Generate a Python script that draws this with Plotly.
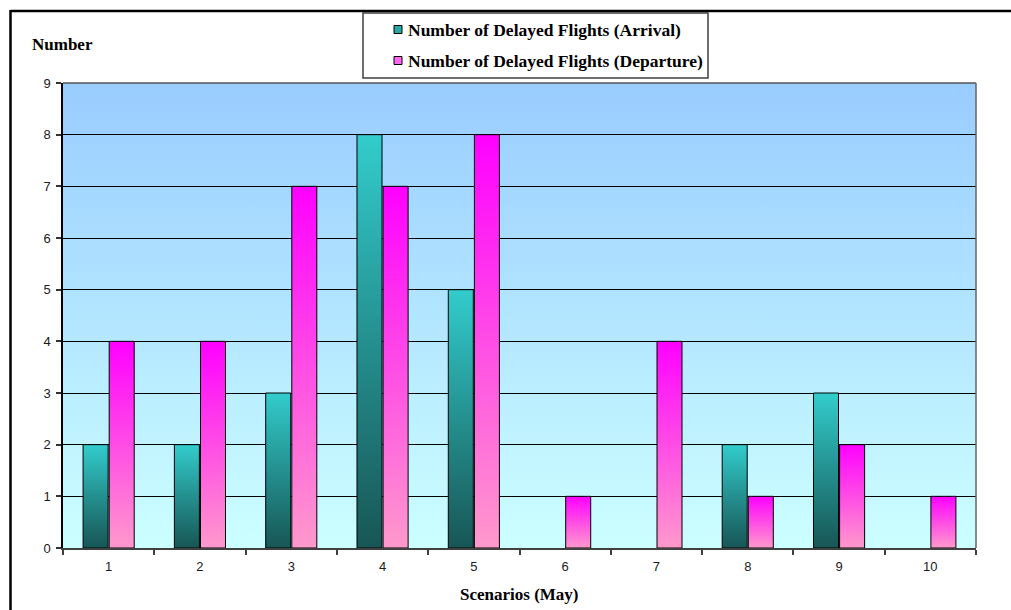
import base64
import plotly.graph_objects as go

# ---- data -------------------------------------------------------------
scenarios = ["1", "2", "3", "4", "5", "6", "7", "8", "9", "10"]
arrival_delays = [2, 2, 3, 8, 5, 0, 0, 2, 3, 0]
departure_delays = [4, 4, 7, 7, 8, 1, 4, 1, 2, 1]
series_names = ["Number of Delayed Flights (Arrival)",
                "Number of Delayed Flights (Departure)"]
y_ticks = list(range(0, 10))

# ---- layout constants (pixels) ---------------------------------------
W, H = 1011, 610
ML, MR, MT, MB = 63, 35, 83, 62
PW, PH = W - ML - MR, H - MT - MB


def px_x(px):
    return (px - ML) / PW


def px_y(py):
    return (H - MB - py) / PH


# bar slots relative to the category centre (category units)
ARR_SLOT = (-0.28, -0.006)
DEP_SLOT = (0.006, 0.28)

ARR_SCALE = [[0, "#185656"], [0.5, "#24908f"], [1, "#33CCCC"]]
DEP_SCALE = [[0, "#FF99CC"], [1, "#FF00FF"]]

fig = go.Figure()


def add_bars(values, slot, scale, name):
    for i, (cat, v) in enumerate(zip(scenarios, values)):
        if v <= 0:
            continue
        c = i + 1
        x0, x1 = c + slot[0], c + slot[1]
        fig.add_trace(go.Scatter(
            x=[x0, x0, x1, x1, x0],
            y=[0, v, v, 0, 0],
            mode="lines",
            fill="toself",
            fillgradient=dict(type="vertical", colorscale=scale),
            line=dict(color="#000000", width=1),
            name=name,
            showlegend=False,
            hoveron="fills",
            hoverinfo="text",
            text=f"{name}<br>Scenario {cat}: {v}",
        ))


add_bars(arrival_delays, ARR_SLOT, ARR_SCALE, series_names[0])
add_bars(departure_delays, DEP_SLOT, DEP_SCALE, series_names[1])

# ---- plot-area gradient background -----------------------------------
svg = ('<svg xmlns="http://www.w3.org/2000/svg" width="10" height="100" '
       'viewBox="0 0 10 100" preserveAspectRatio="none">'
       '<defs><linearGradient id="g" x1="0" y1="0" x2="0" y2="1">'
       '<stop offset="0" stop-color="#99CCFF"/>'
       '<stop offset="1" stop-color="#CCFFFF"/>'
       '</linearGradient></defs>'
       '<rect width="10" height="100" fill="url(#g)"/></svg>')
bg_src = "data:image/svg+xml;base64," + base64.b64encode(svg.encode()).decode()

n = len(scenarios)
fig.add_layout_image(dict(
    source=bg_src, xref="x", yref="y",
    x=0.5, y=max(y_ticks), sizex=n, sizey=max(y_ticks),
    xanchor="left", yanchor="top", sizing="stretch", layer="below",
))

# ---- shapes: outer frame, plot border, custom legend -----------------
shapes = [
    # outer chart frame (left + top edges)
    dict(type="line", xref="paper", yref="paper",
         x0=px_x(10.5), x1=px_x(1012), y0=px_y(11), y1=px_y(11),
         line=dict(color="#000000", width=2.5)),
    dict(type="line", xref="paper", yref="paper",
         x0=px_x(10.5), x1=px_x(10.5), y0=px_y(10), y1=px_y(612),
         line=dict(color="#000000", width=2.5)),
    # plot area border (top + right)
    dict(type="line", xref="paper", yref="paper",
         x0=0, x1=1, y0=1, y1=1, line=dict(color="#555555", width=1.5)),
    dict(type="line", xref="paper", yref="paper",
         x0=1, x1=1, y0=0, y1=1, line=dict(color="#666666", width=1.5)),
    # legend box
    dict(type="rect", xref="paper", yref="paper",
         x0=px_x(363), x1=px_x(708), y0=px_y(13), y1=px_y(78),
         fillcolor="#FFFFFF", line=dict(color="#404040", width=1.5)),
]

annotations = []
legend_rows = [(29.5, "#2AA8A8"), (60.5, "#FF66EE")]
for (cy, col), label in zip(legend_rows, series_names):
    shapes.append(dict(
        type="rect", xref="paper", yref="paper",
        x0=px_x(394), x1=px_x(402), y0=px_y(cy - 4), y1=px_y(cy + 4),
        fillcolor=col, line=dict(color="#000000", width=1)))
    annotations.append(dict(
        xref="paper", yref="paper", x=px_x(406), y=px_y(cy),
        xanchor="left", yanchor="middle", showarrow=False,
        text=f"<b>{label}</b>",
        font=dict(family="Liberation Serif, Times New Roman, serif",
                  size=17.5, color="#000000")))

annotations.append(dict(
    xref="paper", yref="paper", x=px_x(30), y=px_y(45),
    xanchor="left", yanchor="middle", showarrow=False,
    text="<b>Number</b>",
    font=dict(family="Liberation Serif, Times New Roman, serif",
              size=17, color="#000000")))
annotations.append(dict(
    xref="paper", yref="paper", x=0.5, y=px_y(594),
    xanchor="center", yanchor="middle", showarrow=False,
    text="<b>Scenarios (May)</b>",
    font=dict(family="Liberation Serif, Times New Roman, serif",
              size=17, color="#000000")))

tick_font = dict(family="Liberation Sans, Arial, sans-serif",
                 size=13, color="#1a1a1a")

fig.update_layout(
    width=W, height=H,
    margin=dict(l=ML, r=MR, t=MT, b=MB, pad=0),
    paper_bgcolor="#FFFFFF",
    plot_bgcolor="rgba(0,0,0,0)",
    showlegend=False,
    shapes=shapes,
    annotations=annotations,
    xaxis=dict(
        range=[0.5, n + 0.5],
        tickmode="array",
        tickvals=list(range(1, n + 1)),
        ticktext=scenarios,
        ticks="",
        ticklabelstandoff=6,
        tickfont=tick_font,
        showgrid=False,
        zeroline=False,
        showline=True, linecolor="#404040", linewidth=1.5,
        minor=dict(tickmode="array",
                   tickvals=[k + 0.5 for k in range(0, n + 1)],
                   ticks="outside", ticklen=5, tickwidth=1.5,
                   tickcolor="#404040", showgrid=False),
        fixedrange=True,
    ),
    yaxis=dict(
        range=[0, max(y_ticks)],
        tickmode="array",
        tickvals=y_ticks,
        ticktext=[str(v) for v in y_ticks],
        ticks="outside", ticklen=5, tickwidth=1.5, tickcolor="#333333",
        ticklabelstandoff=3,
        tickfont=tick_font,
        showgrid=True, gridcolor="#000000", gridwidth=1,
        zeroline=False,
        showline=True, linecolor="#000000", linewidth=1.5,
        fixedrange=True,
    ),
)

fig.write_html("out.html")
